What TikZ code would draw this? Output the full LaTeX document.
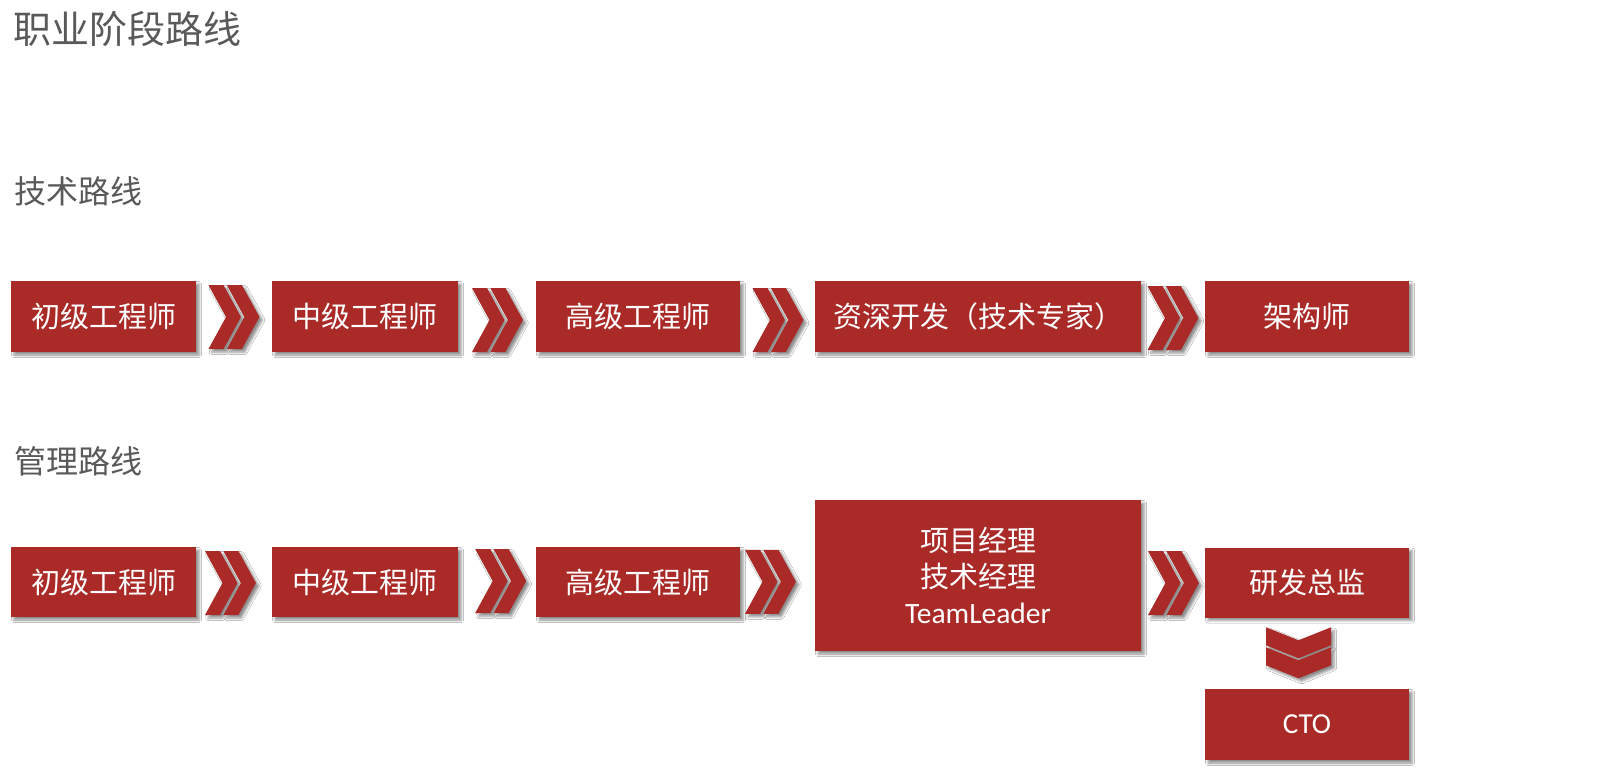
\documentclass[tikz,border=0pt]{standalone}
\usepackage{fontspec}
\newfontfamily\cjk{Noto Sans CJK SC}
\newfontfamily\calib{Carlito}
\usetikzlibrary{calc,shadows.blur}
\definecolor{cred}{HTML}{A92A27}
\definecolor{cgray}{HTML}{595959}
\tikzset{
  softshadow/.style={blur shadow={shadow xshift=3pt, shadow yshift=-3pt, shadow blur radius=2.5pt, shadow opacity=45}},
  box/.style={fill=cred, text=white, inner sep=0pt, align=center, softshadow,
    font=\cjk\fontsize{29}{36}\selectfont},
  lbl/.style={text=cgray, anchor=west, inner sep=0pt},
  chevfill/.style={fill=cred, softshadow},
  pics/rchev/.style={code={
    \fill[chevfill] (-25.5,-32) -- (-10.5,-32) -- (7,0) -- (-10.5,32) -- (-25.5,32) -- (-8,0) -- cycle;
    \fill[chevfill] (-7.1,-32) -- (7.9,-32) -- (25.5,0) -- (7.9,32) -- (-7.1,32) -- (10.4,0) -- cycle;
  }},
  pics/dchev/.style={code={
    \fill[chevfill] (-32.5,-25.5) -- (0,-12.5) -- (32.5,-25.5) -- (32.5,-7.5) -- (0,5.5) -- (-32.5,-7.5) -- cycle;
    \fill[chevfill] (-32.5,-5.5) -- (0,7.5) -- (32.5,-5.5) -- (32.5,12.5) -- (0,25.5) -- (-32.5,12.5) -- cycle;
  }},
}
\begin{document}
\begin{tikzpicture}[x=1pt, y=-1pt]
\useasboundingbox[fill=white] (0,0) rectangle (1608,769);

% titles
\node[lbl, font=\cjk\fontsize{38}{44}\selectfont] (title) at (13,29) {职业阶段路线};
\node[lbl, font=\cjk\fontsize{32}{38}\selectfont] (tech) at (14,191) {技术路线};
\node[lbl, font=\cjk\fontsize{32}{38}\selectfont] (mgmt) at (14,461) {管理路线};

% technical route
\node[box, minimum width=185, minimum height=71] (t1) at (103.5,316.5) {初级工程师};
\node[box, minimum width=186, minimum height=71] (t2) at (365,316.5) {中级工程师};
\node[box, minimum width=204, minimum height=71] (t3) at (638,316.5) {高级工程师};
\node[box, minimum width=326, minimum height=71] (t4) at (978,316.5) {资深开发（技术专家）};
\node[box, minimum width=204, minimum height=71] (t5) at (1307,316.5) {架构师};

\pic at ($(t1.east)!0.5!(t2.west)+(0,0.5)$) {rchev};
\pic at ($(t2.east)!0.5!(t3.west)+(0.5,3.5)$) {rchev};
\pic at ($(t3.east)!0.5!(t4.west)+(0.5,3.5)$) {rchev};
\pic at ($(t4.east)!0.5!(t5.west)+(0,1.5)$) {rchev};

% management route
\node[box, minimum width=185, minimum height=70] (m1) at (103.5,582) {初级工程师};
\node[box, minimum width=186, minimum height=70] (m2) at (365,582) {中级工程师};
\node[box, minimum width=204, minimum height=70] (m3) at (638,582) {高级工程师};
\node[box, minimum width=326, minimum height=151] (m4) at (978,575.5)
  {项目经理\\技术经理\\{\calib\fontsize{29.5}{36}\selectfont TeamLeader}};
\node[box, minimum width=204, minimum height=70] (m5) at (1307,582.5) {研发总监};
\node[box, minimum width=204, minimum height=71, font=\calib\fontsize{29}{32}\selectfont] (cto) at (1307,724.5) {CTO};

\pic at ($(m1.east)!0.5!(m2.west)+(-3.5,1)$) {rchev};
\pic at ($(m2.east)!0.5!(m3.west)+(3.7,-1)$) {rchev};
\pic at ($(m3.east)!0.5!(m4.west)+(-7,3)$) {rchev};
\pic at ($(m4.east)!0.5!(m5.west)+(0.5,4)$) {rchev};
\pic at ($(m5.south)!0.5!(cto.north)+(-8.5,-0.5)$) {dchev};
\end{tikzpicture}
\end{document}
